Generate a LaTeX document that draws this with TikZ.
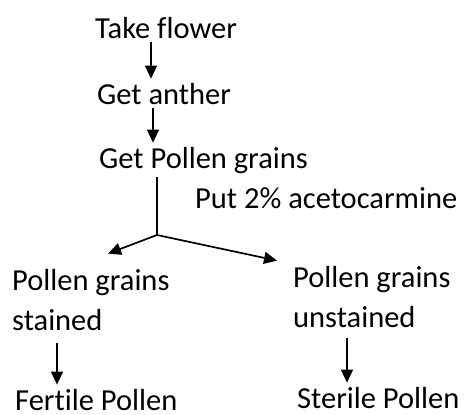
\documentclass[tikz,border=0pt]{standalone}
\usepackage{fontspec}
\setmainfont{Carlito}[Ligatures=NoCommon]
\usetikzlibrary{arrows.meta}

\begin{document}
\begin{tikzpicture}[x=1pt,y=-1pt,
    flowtext/.style={anchor=base west,align=left,inner xsep=0pt,inner ysep=4pt,
      font=\fontsize{30.5}{40}\selectfont},
    flow/.style={line width=1.7pt,-{Triangle[length=13pt,width=12pt]}}]
  \useasboundingbox (0,0) rectangle (464,415);
  \node[flowtext](take)at(95,38){Take flower};
  \node[flowtext](anther)at(97,104){Get anther};
  \node[flowtext](grains)at(99,168){Get Pollen grains};
  \node[flowtext](stain)at(195,208){Put 2\% acetocarmine};
  % two-line nodes sit on the baseline of their last line
  \node[flowtext](stained)at(12,330){Pollen grains\\stained};
  \node[flowtext](unstained)at(293,327){Pollen grains\\unstained};
  \node[flowtext](fertile)at(15,410){Fertile Pollen};
  \node[flowtext](sterile)at(297,408){Sterile Pollen};
  \coordinate (junc) at (157,235);
  \draw[flow]([xshift=56pt]take.south west)--([xshift=54pt]anther.north west);
  \draw[flow]([xshift=56pt]anther.south west)--([xshift=54pt]grains.north west);
  \draw[line width=1.7pt]([xshift=58pt]grains.south west)--(junc);
  \draw[flow](junc)--([shift={(96,-11)}]stained.north west);
  \draw[flow](junc)--([shift={(-16,-1)}]unstained.north west);
  \draw[flow,shorten <=9pt]([xshift=45pt]stained.south west)--([xshift=42pt]fertile.north west);
  \draw[flow,shorten <=7pt]([xshift=54pt]unstained.south west)--([xshift=50pt]sterile.north west);
\end{tikzpicture}
\end{document}
